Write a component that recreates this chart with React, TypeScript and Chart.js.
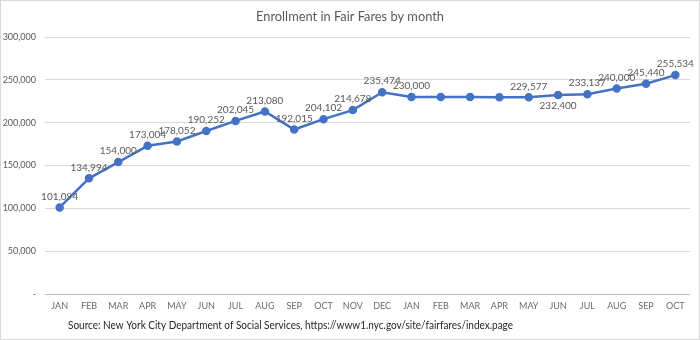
import React, { useEffect, useRef } from "react";
import { Chart, registerables } from "chart.js";

Chart.register(...registerables);

const categories = ["JAN","FEB","MAR","APR","MAY","JUN","JUL","AUG","SEP","OCT","NOV","DEC","JAN","FEB","MAR","APR","MAY","JUN","JUL","AUG","SEP","OCT"];
const enrollment = [101094,134994,154000,173004,178052,190252,202045,213080,192015,204102,214678,235474,230000,230000,230000,229600,229577,232400,233137,240000,245440,255534];
const labelShown = [true,true,true,true,true,true,true,true,true,true,true,true,true,false,false,false,true,true,true,true,true,true];
const labelBelow = [17];
const yTicks = [0,50000,100000,150000,200000,250000,300000];
const titleText = "Enrollment in Fair Fares by month";
const sourceText = "Source: New York City Department of Social Services, https://www1.nyc.gov/site/fairfares/index.page";

const FONT = "Lato, 'Open Sans', sans-serif";

const fmt = (v: number) => v === 0 ? "-" : v.toLocaleString("en-US");

const decorPlugin = {
  id: "decor",
  afterDatasetsDraw(chart: any) {
    const ctx = chart.ctx;
    const meta = chart.getDatasetMeta(0);
    ctx.save();
    ctx.font = `10px ${FONT}`;
    ctx.fillStyle = "#595959";
    ctx.textAlign = "center";
    meta.data.forEach((pt: any, i: number) => {
      if (!labelShown[i]) return;
      const below = labelBelow.includes(i);
      ctx.textBaseline = below ? "top" : "bottom";
      ctx.fillText(enrollment[i].toLocaleString("en-US"), pt.x, below ? pt.y + 6 : pt.y - 6);
    });
    ctx.restore();
  },
  afterDraw(chart: any) {
    const ctx = chart.ctx;
    ctx.save();
    ctx.font = `13px ${FONT}`;
    ctx.fillStyle = "#595959";
    ctx.textAlign = "center";
    ctx.textBaseline = "middle";
    ctx.fillText(titleText, 350, 17, 188);
    ctx.font = `11px ${FONT}`;
    ctx.fillStyle = "#262626";
    ctx.textAlign = "left";
    ctx.fillText(sourceText, 68, 325, 445);
    ctx.restore();
  },
};

export default function App() {
  const ref = useRef<HTMLCanvasElement>(null);
  useEffect(() => {
    document.body.style.margin = "0";
    const chart = new Chart(ref.current!, {
      type: "line",
      data: {
        labels: categories,
        datasets: [{
          data: enrollment,
          borderColor: "#4472C4",
          backgroundColor: "#4472C4",
          borderWidth: 2.5,
          pointRadius: 3,
          pointBackgroundColor: "#4472C4",
          pointBorderColor: "#4472C4",
          tension: 0,
        }],
      },
      options: {
        animation: false,
        responsive: false,
        maintainAspectRatio: false,
        layout: { padding: { left: 0, right: 10, top: 37, bottom: 0 } },
        plugins: { legend: { display: false }, tooltip: { enabled: false }, title: { display: false } },
        scales: {
          x: {
            offset: true,
            grid: { display: false, drawTicks: false },
            border: { display: false },
            ticks: { color: "#6b6b6b", font: { family: FONT, size: 9 }, padding: 7, maxRotation: 0, autoSkip: false },
            afterFit: (s: any) => { s.height = 46; },
          },
          y: {
            min: 0,
            max: 300000,
            afterBuildTicks: (s: any) => { s.ticks = yTicks.map((v) => ({ value: v })); },
            grid: { color: (c: any) => (c.tick && c.tick.value === 0 ? "#bfbfbf" : "#d9d9d9"), drawTicks: false },
            border: { display: false },
            ticks: { color: "#595959", font: { family: FONT, size: 9 }, padding: 9, callback: (v: any) => fmt(Number(v)) },
            afterFit: (s: any) => { s.width = 45; },
          },
        },
      },
      plugins: [decorPlugin],
    });
    return () => chart.destroy();
  }, []);
  return (
    <div style={{ position: "relative", width: 700, height: 340, background: "#fff" }}>
      <canvas ref={ref} width={700} height={340} style={{ display: "block" }} />
      <div style={{ position: "absolute", inset: 0, border: "1px solid #d9d9d9", pointerEvents: "none" }} />
    </div>
  );
}
